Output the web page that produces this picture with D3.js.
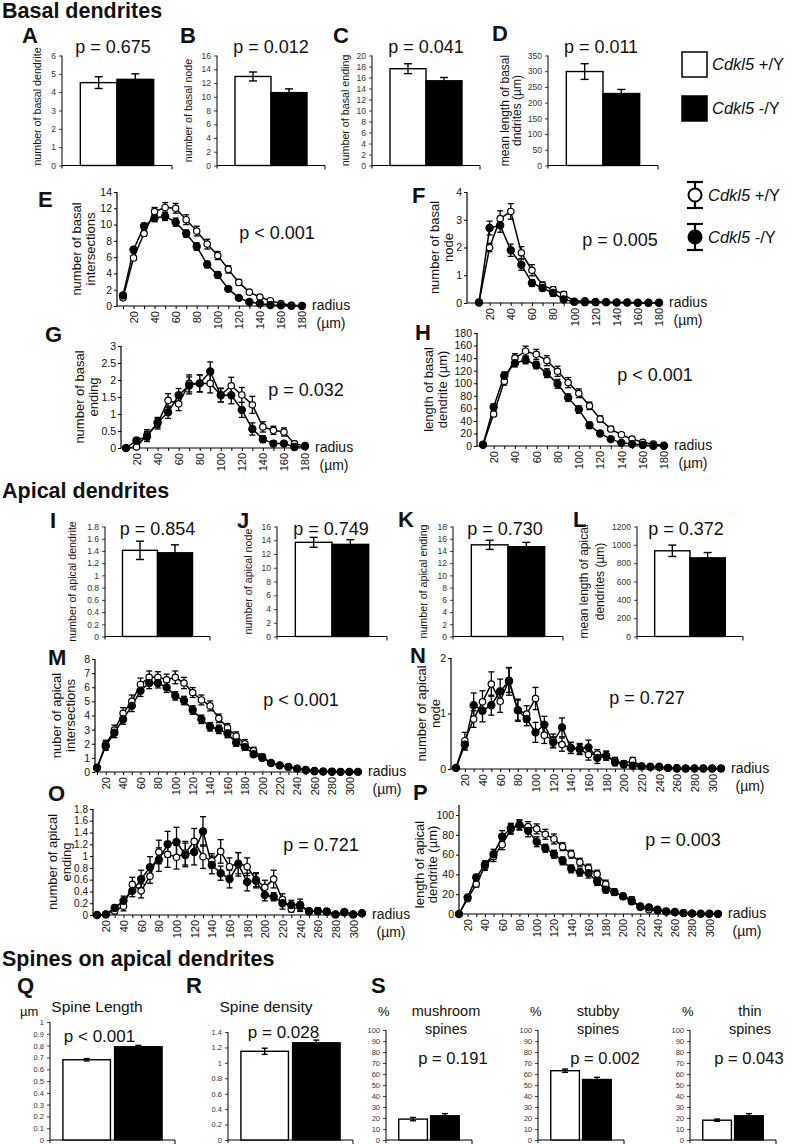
<!DOCTYPE html>
<html><head><meta charset="utf-8">
<script src="https://cdn.jsdelivr.net/npm/d3@7"></script>
<style>
body{margin:0;background:#fff;}
svg{font-family:"Liberation Sans",Arial,Helvetica,sans-serif;}
</style></head><body>
<svg id="c" width="786" height="1144"></svg>
<script>
// ---------------- DATA ----------------
const groups = ["Cdkl5 +/Y", "Cdkl5 -/Y"];

// Basal bar charts (A-D)
const basalDendriteNum = [4.52, 4.70], basalDendriteNumErr = [0.32, 0.30];
const basalNodeNum = [12.95, 10.6], basalNodeNumErr = [0.65, 0.55];
const basalEndingNum = [17.6, 15.4], basalEndingNumErr = [0.9, 0.6];
const basalMeanLength = [299, 229], basalMeanLengthErr = [25, 13];

// Apical bar charts (I-L)
const apicalDendriteNum = [1.41, 1.37], apicalDendriteNumErr = [0.15, 0.13];
const apicalNodeNum = [13.7, 13.4], apicalNodeNumErr = [0.72, 0.68];
const apicalEndingNum = [15.0, 14.7], apicalEndingNumErr = [0.75, 0.7];
const apicalMeanLength = [935, 858], apicalMeanLengthErr = [62, 58];

// Spines (Q-S)
const spineLength = [0.68, 0.79], spineLengthErr = [0.01, 0.012];
const spineDensity = [1.15, 1.26], spineDensityErr = [0.04, 0.035];
const mushroomPct = [19, 22], mushroomPctErr = [1.5, 2];
const stubbyPct = [63, 55], stubbyPctErr = [1.5, 2];
const thinPct = [18, 22], thinPctErr = [1, 2];

// Sholl radii
const radiusBasal = [10,20,30,40,50,60,70,80,90,100,110,120,130,140,150,160,170,180];
const radiusBasalLabels = [20,40,60,80,100,120,140,160,180];
const radiusApical = [10,20,30,40,50,60,70,80,90,100,110,120,130,140,150,160,170,180,190,200,210,220,230,240,250,260,270,280,290,300,310];
const radiusApicalLabels = [20,40,60,80,100,120,140,160,180,200,220,240,260,280,300];

// E
const basalInterWT = [1.0,5.9,8.9,11.6,12.1,12.0,10.6,9.2,7.6,6.2,4.5,2.9,1.7,1.1,0.65,0.3,0.1,0.02];
const basalInterWTErr = [0.2,0.3,0.3,0.5,0.6,0.6,0.6,0.6,0.6,0.5,0.45,0.35,0.25,0.15,0.1,0.08,0.05,0];
const basalInterKO = [1.3,6.9,9.8,10.8,11.0,10.3,8.9,7.3,5.1,3.8,2.1,1.0,0.5,0.3,0.12,0.08,0.03,0.01];
const basalInterKOErr = [0.2,0.35,0.35,0.45,0.5,0.5,0.45,0.45,0.4,0.4,0.3,0.25,0.15,0.1,0.07,0.05,0.03,0];
// F
const basalNodeWT = [0.02,2.0,3.04,3.3,1.81,1.18,0.64,0.48,0.31,0.06,0.08,0.04,0.03,0.02,0.02,0.01,0.01,0.01];
const basalNodeWTErr = [0,0.15,0.28,0.28,0.22,0.2,0.12,0.1,0.1,0.05,0.05,0.03,0.02,0.02,0.01,0,0,0];
const basalNodeKO = [0.02,2.7,2.8,1.9,1.38,0.72,0.54,0.36,0.13,0.04,0.03,0.03,0.03,0.02,0.02,0.01,0.01,0.01];
const basalNodeKOErr = [0,0.25,0.25,0.22,0.2,0.12,0.1,0.12,0.08,0.04,0.03,0.02,0.02,0.01,0.01,0,0,0];
// G
const basalEndWT = [0,0.03,0.39,0.71,1.40,1.30,1.90,1.90,1.90,1.56,1.83,1.56,1.27,0.62,0.52,0.47,0.12,0.07];
const basalEndWTErr = [0,0.03,0.15,0.15,0.2,0.2,0.25,0.25,0.28,0.2,0.25,0.22,0.25,0.15,0.12,0.12,0.08,0.05];
const basalEndKO = [0,0.22,0.34,0.75,1.05,1.55,1.84,1.90,2.25,1.55,1.55,1.12,0.56,0.26,0.13,0.13,0.03,0.05];
const basalEndKOErr = [0,0.08,0.15,0.15,0.18,0.2,0.25,0.25,0.28,0.2,0.25,0.22,0.18,0.1,0.07,0.06,0.03,0.03];
// H
const basalLenWT = [2,51,103,140,151,146,136,119,101,84,64,43,27,18,11,6,3,1];
const basalLenWTErr = [1,4,6,7,8,8,8,8,8,7,6,5,4,3,2,1.5,1,0.5];
const basalLenKO = [2,62,112,132,137,129,116,99,77,58,33,20,11,5,3,1.6,0.5,0.2];
const basalLenKOErr = [1,5,6,6,6,6,7,7,6,6,5,4,3,2,1.5,1,0.5,0];
// M
const apicalInterWT = [0.3,1.95,2.97,4.16,5.0,6.2,6.7,6.7,6.53,6.7,6.3,5.63,5.1,4.68,3.8,3.13,2.54,2.0,1.5,1.07,0.64,0.47,0.36,0.24,0.17,0.1,0.05,0.03,0.02,0.01,0.01];
const apicalInterWTErr = [0.1,0.3,0.35,0.4,0.45,0.45,0.45,0.4,0.4,0.45,0.4,0.35,0.35,0.35,0.3,0.3,0.3,0.3,0.25,0.2,0.15,0.12,0.1,0.08,0.06,0.04,0.03,0.02,0.01,0.01,0.01];
const apicalInterKO = [0.3,1.83,2.78,3.73,4.68,5.75,6.3,6.3,5.99,5.39,5.06,4.39,3.73,3.2,3.02,2.73,2.07,1.78,1.26,1.0,0.64,0.47,0.36,0.24,0.12,0.05,0.03,0.02,0.01,0.01,0.01];
const apicalInterKOErr = [0.1,0.3,0.35,0.35,0.4,0.4,0.4,0.35,0.35,0.3,0.3,0.3,0.3,0.3,0.3,0.3,0.25,0.25,0.2,0.2,0.15,0.12,0.1,0.08,0.05,0.03,0.02,0.01,0.01,0.01,0.01];
// N
const apicalNodeWT = [0.02,0.51,0.9,1.21,1.53,1.22,1.6,1.06,0.99,1.27,0.61,0.51,0.44,0.38,0.36,0.26,0.27,0.24,0.15,0.1,0.15,0.05,0.04,0.03,0.02,0.02,0.01,0.01,0.01,0.01,0.01];
const apicalNodeWTErr = [0.02,0.15,0.15,0.2,0.22,0.2,0.22,0.18,0.15,0.2,0.15,0.12,0.12,0.1,0.1,0.1,0.08,0.08,0.06,0.05,0.06,0.03,0.02,0.02,0.01,0.01,0.01,0.01,0.01,0.01,0.01];
const apicalNodeKO = [0.02,0.44,1.15,1.05,1.15,1.4,1.58,1.06,0.9,0.66,0.8,0.48,0.75,0.38,0.36,0.39,0.2,0.24,0.12,0.08,0.06,0.05,0.04,0.04,0.02,0.01,0.01,0.01,0.01,0.01,0.01];
const apicalNodeKOErr = [0.02,0.1,0.22,0.2,0.18,0.22,0.25,0.2,0.12,0.18,0.15,0.1,0.17,0.1,0.08,0.13,0.1,0.08,0.06,0.05,0.04,0.03,0.02,0.02,0.01,0.01,0.01,0.01,0.01,0.01,0.01];
// O
const apicalEndWT = [0,0.01,0.07,0.15,0.52,0.41,0.66,1.07,1.03,0.98,1.05,1.25,0.99,0.92,1.08,0.82,0.88,0.82,0.6,0.47,0.61,0.26,0.1,0.14,0.07,0.06,0.05,0.01,0.04,0.01,0.03];
const apicalEndWTErr = [0,0.01,0.05,0.08,0.12,0.12,0.12,0.2,0.22,0.2,0.2,0.22,0.2,0.12,0.2,0.15,0.18,0.15,0.12,0.12,0.15,0.1,0.05,0.08,0.04,0.04,0.03,0.02,0.03,0.01,0.02];
const apicalEndKO = [0,0.01,0.12,0.24,0.41,0.61,0.81,0.94,1.2,1.24,1.02,1.07,1.42,0.85,0.71,0.61,0.86,0.56,0.58,0.34,0.31,0.2,0.17,0.17,0.06,0.07,0.06,0.01,0.05,0.01,0.03];
const apicalEndKOErr = [0,0.01,0.05,0.08,0.1,0.15,0.18,0.2,0.22,0.25,0.2,0.22,0.25,0.15,0.12,0.15,0.2,0.15,0.12,0.1,0.07,0.1,0.08,0.1,0.04,0.05,0.04,0.02,0.03,0.01,0.02];
// P
const apicalLenWT = [0,15.4,30.2,48,58,70,85.6,90,88.3,86,80.5,75.8,68,60.4,52.3,46.3,40.3,30.2,22,17.8,14.4,6.7,4.4,3.4,2,1.7,0.7,0.3,0.2,0.1,0.1];
const apicalLenWTErr = [0,2,3,4,5,5,5,5,5,5,5,5,4,4,4,4,4,4,3,3,3,2,2,1.5,1,1,0.5,0.3,0.2,0.1,0.1];
const apicalLenKO = [0,16.8,36.9,49.7,60.4,78.2,86.6,90,84,73,66.4,60.4,53.7,45.6,42.3,41.3,32.9,24.5,22.1,17.8,12.8,7.7,6.7,4.4,2.7,2.0,1,0.5,0.3,0.2,0.1];
const apicalLenKOErr = [0,2,3,4,5,6,5,5,6,5,4,4,4,4,4,5,4,3,3,3,3,2,2,1.5,1,1,0.5,0.3,0.2,0.1,0.1];

// ---------------- DRAWING ----------------
const svg = d3.select("#c");
const FONT = '"Liberation Sans", Arial, Helvetica, sans-serif';
const fmt = d => String(+(+d).toFixed(2));
const range = (a, b, s) => d3.range(a, b + s / 2, s).map(v => +v.toFixed(3));

function txt(x, y, s, o = {}) {
  const t = svg.append("text").attr("x", x).attr("y", y)
    .attr("font-size", o.size || 12).attr("text-anchor", o.anchor || "start")
    .attr("font-family", FONT).attr("fill", "#111");
  if (o.bold) t.attr("font-weight", "bold");
  if (o.italic) t.attr("font-style", "italic");
  t.text(s);
  return t;
}
function vlabel(cx, cy, s, size) {
  svg.append("text").attr("transform", `translate(${cx},${cy}) rotate(-90)`)
    .attr("text-anchor", "middle").attr("dominant-baseline", "central")
    .attr("font-size", size).attr("font-family", FONT).attr("fill", "#111").text(s);
}
function groupLabel(x, y, size, suffix) {
  const t = svg.append("text").attr("x", x).attr("y", y).attr("font-size", size)
    .attr("font-family", FONT).attr("fill", "#111");
  t.append("tspan").attr("font-style", "italic").text("Cdkl5");
  t.append("tspan").text(" " + suffix);
}

function barChart(o) {
  const g = svg.append("g");
  const x = d3.scaleBand().domain(groups).range([o.ax, o.ax + o.w])
    .paddingInner(o.pi ?? 0).paddingOuter(o.po ?? 0.5);
  const y = d3.scaleLinear().domain([0, o.ymax]).range([o.y0, o.ytop]);
  const yax = g.append("g").attr("transform", `translate(${o.ax},0)`)
    .call(d3.axisLeft(y).tickValues(o.yticks).tickSize(3).tickPadding(3).tickFormat(fmt));
  yax.select(".domain").remove();
  yax.selectAll(".tick line").attr("stroke", "#444");
  yax.selectAll("text").attr("font-size", o.tickSize || 8.5).attr("font-family", FONT).attr("fill", "#333");
  g.append("line").attr("x1", o.ax).attr("x2", o.ax).attr("y1", o.y0 + 3).attr("y2", o.ytop).attr("stroke", "#000");
  g.append("line").attr("x1", o.ax).attr("x2", o.ax + o.w).attr("y1", o.y0).attr("y2", o.y0).attr("stroke", "#000").attr("stroke-width", 1.2);
  g.append("line").attr("x1", o.ax + o.w).attr("x2", o.ax + o.w).attr("y1", o.y0).attr("y2", o.y0 + 4).attr("stroke", "#000");
  const data = groups.map((k, i) => ({ k, v: o.vals[i], e: o.errs[i] }));
  g.selectAll("rect.bar").data(data).enter().append("rect")
    .attr("x", d => x(d.k)).attr("width", x.bandwidth())
    .attr("y", d => y(d.v)).attr("height", d => o.y0 - y(d.v))
    .attr("fill", (d, i) => i ? "#000" : "#fff").attr("stroke", "#000").attr("stroke-width", 1.4);
  const cw = o.cap || 4;
  data.forEach(d => {
    const cx = x(d.k) + x.bandwidth() / 2;
    g.append("line").attr("x1", cx).attr("x2", cx).attr("y1", y(d.v - d.e)).attr("y2", y(d.v + d.e)).attr("stroke", "#000").attr("stroke-width", 1.4);
    [d.v - d.e, d.v + d.e].forEach(v => g.append("line").attr("x1", cx - cw).attr("x2", cx + cw).attr("y1", y(v)).attr("y2", y(v)).attr("stroke", "#000").attr("stroke-width", 1.4));
  });
  if (o.ylab) {
    const cy = (o.y0 + o.ytop) / 2 + (o.ylabDy || 0);
    o.ylab.forEach((s, i) => vlabel(o.ax + o.ylabDx[i], cy, s, o.ylabSize || 10.7));
  }
  if (o.p) txt(o.ax + o.w / 2 + (o.pdx || 0), o.py, o.p, { size: o.pSize || 18, anchor: "middle" });
}

function lineChart(o) {
  const g = svg.append("g");
  const xs = o.xs;
  const x = d3.scaleLinear().domain([xs[0], xs[xs.length - 1]]).range([o.x1, o.x2]);
  const y = d3.scaleLinear().domain([0, o.ymax]).range([o.y0, o.ytop]);
  const axTop = o.axisTopVal != null ? y(o.axisTopVal) : o.ytop;
  const yax = g.append("g").attr("transform", `translate(${o.ax},0)`)
    .call(d3.axisLeft(y).tickValues(o.yticks).tickSize(3).tickPadding(2).tickFormat(fmt));
  yax.select(".domain").remove();
  yax.selectAll("text").attr("font-size", o.ytickSize || 10.5).attr("font-family", FONT).attr("fill", "#111");
  g.append("line").attr("x1", o.ax).attr("x2", o.ax).attr("y1", o.y0).attr("y2", axTop).attr("stroke", "#000").attr("stroke-width", 1.2);
  g.append("line").attr("x1", o.ax).attr("x2", o.x2 + 2).attr("y1", o.y0).attr("y2", o.y0).attr("stroke", "#000").attr("stroke-width", 1.2);
  const xt = g.append("g").attr("transform", `translate(0,${o.y0})`)
    .call(d3.axisBottom(x).tickValues(xs).tickSize(3).tickFormat(""));
  xt.select(".domain").remove();
  const xl = g.append("g").attr("transform", `translate(0,${o.y0})`)
    .call(d3.axisBottom(x).tickValues(o.xlabels).tickSize(0).tickFormat(d3.format("d")));
  xl.select(".domain").remove();
  xl.selectAll("text").attr("transform", "rotate(-90)").attr("x", -5).attr("y", 0).attr("dy", "0.35em")
    .attr("text-anchor", "end").attr("font-size", 11).attr("font-family", FONT).attr("fill", "#111");

  const series = [
    { v: o.wt, e: o.wtErr, filled: false },
    { v: o.ko, e: o.koErr, filled: true }
  ].map(s => ({ ...s, pts: xs.map((r, i) => ({ r, v: s.v[i], e: s.e[i] })) }));
  const line = d3.line().x(d => x(d.r)).y(d => y(d.v));
  series.forEach(s => {
    g.append("path").datum(s.pts).attr("d", line).attr("fill", "none").attr("stroke", "#000").attr("stroke-width", 1.5);
  });
  const cw = 3;
  series.forEach(s => {
    s.pts.forEach(d => {
      if (d.e <= 0) return;
      const cx = x(d.r);
      g.append("line").attr("x1", cx).attr("x2", cx).attr("y1", y(Math.max(0, d.v - d.e))).attr("y2", y(d.v + d.e)).attr("stroke", "#000").attr("stroke-width", 1.3);
      [Math.max(0, d.v - d.e), d.v + d.e].forEach(v => g.append("line").attr("x1", cx - cw).attr("x2", cx + cw).attr("y1", y(v)).attr("y2", y(v)).attr("stroke", "#000").attr("stroke-width", 1.3));
    });
  });
  series.forEach(s => {
    g.selectAll(null).data(s.pts).enter().append("circle")
      .attr("cx", d => x(d.r)).attr("cy", d => y(d.v)).attr("r", s.filled ? 3.6 : 3.2)
      .attr("fill", s.filled ? "#000" : "#fff").attr("stroke", "#000").attr("stroke-width", 1.2);
  });
  const cy = (o.y0 + o.ytop) / 2 + (o.ylabDy || 0);
  o.ylab.forEach((s, i) => vlabel(o.ax + o.ylabDx[i], cy, s, 13));
  txt(o.px, o.py, o.p, { size: 18, anchor: "middle" });
  const rx = o.x2 + 10;
  txt(rx, o.y0 + 4, "radius", { size: 14 });
  txt(rx + 19, o.y0 + 22, "(µm)", { size: 14, anchor: "middle" });
}

// ---- Titles ----
txt(2, 18, "Basal dendrites", { size: 21.5, bold: true });
txt(2, 498, "Apical dendrites", { size: 21.5, bold: true });
txt(2, 966, "Spines on apical dendrites", { size: 21.5, bold: true });

// ---- Panel letters ----
[["A", 22, 43], ["B", 180, 43], ["C", 333, 43], ["D", 492, 41],
 ["E", 38, 207], ["F", 412, 203], ["G", 45, 342], ["H", 415, 340],
 ["I", 50, 528], ["J", 237, 528], ["K", 398, 527], ["L", 573, 527],
 ["M", 48, 665], ["N", 410, 663], ["O", 48, 801], ["P", 413, 800],
 ["Q", 17, 993], ["R", 186, 993], ["S", 371, 993]]
  .forEach(([s, x, y]) => txt(x, y, s, { size: 22, bold: true }));

// ---- A-D ----
const topY0 = 165.5, topTop = 55.5;
barChart({ ax: 62, w: 110, y0: topY0, ytop: topTop, ymax: 6, yticks: range(0, 6, 1), vals: basalDendriteNum, errs: basalDendriteNumErr,
  ylab: ["number of basal dendrite"], ylabDx: [-25], ylabDy: -4, p: "p = 0.675", py: 53, pdx: -4 });
barChart({ ax: 217, w: 108, y0: topY0, ytop: topTop, ymax: 16, yticks: range(0, 16, 2), vals: basalNodeNum, errs: basalNodeNumErr,
  ylab: ["number of basal node"], ylabDx: [-29], p: "p = 0.012", py: 53 });
barChart({ ax: 372, w: 108, y0: topY0, ytop: topTop, ymax: 20, yticks: range(0, 20, 2), vals: basalEndingNum, errs: basalEndingNumErr,
  ylab: ["number of basal ending"], ylabDx: [-27], p: "p = 0.041", py: 53 });
barChart({ ax: 548, w: 110, y0: topY0, ytop: topTop, ymax: 350, yticks: range(0, 350, 50), vals: basalMeanLength, errs: basalMeanLengthErr,
  ylab: ["mean length of basal", "dndrites (µm)"], ylabDx: [-43, -31], ylabSize: 12, p: "p = 0.011", py: 53, pdx: -2 });

// Legend (bars)
svg.append("rect").attr("x", 682).attr("y", 52).attr("width", 25).attr("height", 25).attr("fill", "#fff").attr("stroke", "#000").attr("stroke-width", 1.5);
svg.append("rect").attr("x", 682).attr("y", 96).attr("width", 25).attr("height", 25).attr("fill", "#000").attr("stroke", "#000").attr("stroke-width", 1.5);
groupLabel(712, 70, 16.5, "+/Y");
groupLabel(712, 114, 16.5, "-/Y");

// ---- E-H ----
lineChart({ ax: 117, x1: 123, x2: 302, y0: 306, ytop: 192, ymax: 14, yticks: range(0, 14, 2), xs: radiusBasal, xlabels: radiusBasalLabels,
  wt: basalInterWT, wtErr: basalInterWTErr, ko: basalInterKO, koErr: basalInterKOErr,
  ylab: ["number of basal", "intersections"], ylabDx: [-41, -27], p: "p < 0.001", px: 277, py: 239 });
lineChart({ ax: 467, x1: 479, x2: 659, y0: 303, ytop: 192, ymax: 4, yticks: range(0, 4, 1), xs: radiusBasal, xlabels: radiusBasalLabels,
  wt: basalNodeWT, wtErr: basalNodeWTErr, ko: basalNodeKO, koErr: basalNodeKOErr,
  ylab: ["number of basal", "node"], ylabDx: [-33, -19], p: "p = 0.005", px: 620, py: 246 });
lineChart({ ax: 121, x1: 126, x2: 305, y0: 448, ytop: 346, ymax: 3, yticks: range(0, 3, 0.5), xs: radiusBasal, xlabels: radiusBasalLabels,
  wt: basalEndWT, wtErr: basalEndWTErr, ko: basalEndKO, koErr: basalEndKOErr,
  ylab: ["number of basal", "ending"], ylabDx: [-42, -28], p: "p = 0.032", px: 306, py: 396 });
lineChart({ ax: 477, x1: 483, x2: 664, y0: 446, ytop: 333, ymax: 180, yticks: range(0, 180, 20), xs: radiusBasal, xlabels: radiusBasalLabels,
  wt: basalLenWT, wtErr: basalLenWTErr, ko: basalLenKO, koErr: basalLenKOErr,
  ylab: ["length of basal", "dendrite (µm)"], ylabDx: [-49, -35], p: "p < 0.001", px: 655, py: 381 });

// Legend (lines)
function lineLegend(cx, cy, filled, suffix) {
  const g = svg.append("g");
  g.append("line").attr("x1", cx).attr("x2", cx).attr("y1", cy - 13).attr("y2", cy + 13).attr("stroke", "#000").attr("stroke-width", 2.2);
  [cy - 13, cy + 13].forEach(yy => g.append("line").attr("x1", cx - 8).attr("x2", cx + 8).attr("y1", yy).attr("y2", yy).attr("stroke", "#000").attr("stroke-width", 2.2));
  g.append("circle").attr("cx", cx).attr("cy", cy).attr("r", 6.5).attr("fill", filled ? "#000" : "#fff").attr("stroke", "#000").attr("stroke-width", 2);
  groupLabel(cx + 13, cy + 6, 16.5, suffix);
}
lineLegend(695, 195, false, "+/Y");
lineLegend(695, 237, true, "-/Y");

// ---- I-L ----
const midY0 = 636.5, midTop = 526.5;
barChart({ ax: 105, w: 105, y0: midY0, ytop: midTop, ymax: 1.8, yticks: range(0, 1.8, 0.2), vals: apicalDendriteNum, errs: apicalDendriteNumErr,
  ylab: ["number of apical dendrite"], ylabDx: [-33], p: "p = 0.854", py: 535 });
barChart({ ax: 277, w: 110, y0: midY0, ytop: midTop, ymax: 16, yticks: range(0, 16, 2), vals: apicalNodeNum, errs: apicalNodeNumErr,
  ylab: ["number of apical node"], ylabDx: [-29], p: "p = 0.749", py: 535, pdx: -1 });
barChart({ ax: 453, w: 110, y0: midY0, ytop: midTop, ymax: 18, yticks: range(0, 18, 2), vals: apicalEndingNum, errs: apicalEndingNumErr,
  ylab: ["number of apical ending"], ylabDx: [-30], p: "p = 0.730", py: 535, pdx: -3 });
barChart({ ax: 637, w: 106, y0: midY0, ytop: midTop, ymax: 1200, yticks: range(0, 1200, 200), vals: apicalMeanLength, errs: apicalMeanLengthErr,
  ylab: ["mean length of apical", "dendrites (µm)"], ylabDx: [-53, -37], ylabSize: 12, p: "p = 0.372", py: 535, pdx: -4 });

// ---- M-P ----
lineChart({ ax: 95, x1: 97, x2: 358, y0: 772, ytop: 659, ymax: 8, yticks: range(0, 8, 1), xs: radiusApical, xlabels: radiusApicalLabels,
  wt: apicalInterWT, wtErr: apicalInterWTErr, ko: apicalInterKO, koErr: apicalInterKOErr,
  ylab: ["nuber of apical", "intersections"], ylabDx: [-39, -25], p: "p < 0.001", px: 301, py: 706 });
lineChart({ ax: 451, x1: 456, x2: 721, y0: 769, ytop: 658, ymax: 2, yticks: range(0, 2, 1), xs: radiusApical, xlabels: radiusApicalLabels,
  wt: apicalNodeWT, wtErr: apicalNodeWTErr, ko: apicalNodeKO, koErr: apicalNodeKOErr,
  ylab: ["number of apical", "node"], ylabDx: [-30, -16], p: "p = 0.727", px: 647, py: 704 });
lineChart({ ax: 93, x1: 97, x2: 362, y0: 915, ytop: 809, ymax: 1.8, yticks: range(0, 1.8, 0.2), ytickSize: 10, xs: radiusApical, xlabels: radiusApicalLabels,
  wt: apicalEndWT, wtErr: apicalEndWTErr, ko: apicalEndKO, koErr: apicalEndKOErr,
  ylab: ["number of apical", "ending"], ylabDx: [-41, -27], p: "p = 0.721", px: 321, py: 851 });
lineChart({ ax: 459, x1: 459, x2: 718, y0: 914, ytop: 815, ymax: 100, axisTopVal: 110, yticks: range(0, 100, 20), xs: radiusApical, xlabels: radiusApicalLabels,
  wt: apicalLenWT, wtErr: apicalLenWTErr, ko: apicalLenKO, koErr: apicalLenKOErr,
  ylab: ["length of apical", "dendrite (µm)"], ylabDx: [-40, -27], p: "p = 0.003", px: 683, py: 846 });

// ---- Q-S ----
const botY0 = 1140;
txt(20, 1016, "µm", { size: 13 });
txt(97, 1012, "Spine Length", { size: 15.5, anchor: "middle" });
barChart({ ax: 50, w: 125, y0: botY0, ytop: 1022, ymax: 1, yticks: range(0, 1, 0.1), vals: spineLength, errs: spineLengthErr,
  pi: 0.08, po: 0.25, tickSize: 7.5, cap: 3, p: "p < 0.001", py: 1042, pSize: 17, pdx: -13 });
txt(266, 1012, "Spine density", { size: 15.5, anchor: "middle" });
barChart({ ax: 228, w: 125, y0: botY0, ytop: 1032, ymax: 1.4, yticks: range(0, 1.4, 0.2), vals: spineDensity, errs: spineDensityErr,
  pi: 0.08, po: 0.25, tickSize: 7.5, cap: 3, p: "p = 0.028", py: 1038, pSize: 17, pdx: -7 });
[[386, mushroomPct, mushroomPctErr, "mushroom", "p = 0.191", 24],
 [538, stubbyPct, stubbyPctErr, "stubby", "p = 0.002", 24],
 [690, thinPct, thinPctErr, "thin", "p = 0.043", 16]].forEach(([ax, v, e, name, p, pdx]) => {
  txt(ax - 8, 1016, "%", { size: 13 });
  txt(ax + 60, 1016, name, { size: 14.5, anchor: "middle" });
  txt(ax + 60, 1034, "spines", { size: 14.5, anchor: "middle" });
  barChart({ ax, w: 86, y0: botY0, ytop: 1030, ymax: 100, yticks: range(0, 100, 10), vals: v, errs: e,
    pi: 0.1, po: 0.4, tickSize: 7.5, cap: 3, p, py: 1064, pSize: 16.5, pdx });
});
</script>
</body></html>
